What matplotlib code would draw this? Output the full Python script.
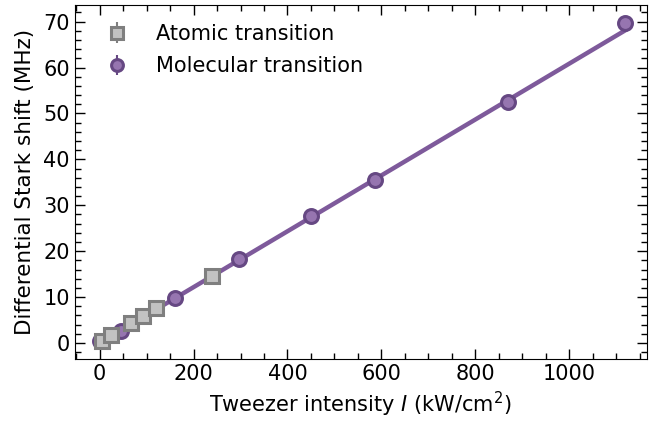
import matplotlib
matplotlib.use('Agg')
import matplotlib.pyplot as plt
from matplotlib.ticker import MultipleLocator

# atomic transition (grey squares)
atom_I = [4, 25, 66, 93, 121, 240]
atom_shift = [0.4, 1.7, 4.3, 5.9, 7.6, 14.7]
atom_err = [0.3, 0.3, 0.3, 0.3, 0.3, 0.3]

# molecular transition (purple circles)
mol_I = [0, 45, 160, 296, 451, 587, 870, 1119]
mol_shift = [0.4, 2.6, 9.7, 18.3, 27.6, 35.6, 52.4, 69.8]
mol_err = [0.3, 0.3, 0.3, 0.3, 0.3, 0.3, 0.3, 0.3]

# linear fit endpoints
fit_I = [0, 1119]
fit_shift = [0.0, 68.1]

line_col = '#7e5a9b'
mol_face = '#9675b0'
mol_edge = '#664883'
atom_face = '#c2c2c2'
atom_edge = '#7f7f7f'

plt.rcParams['font.size'] = 15
fig, ax = plt.subplots(figsize=(6.5, 4.26), dpi=100)

ax.plot(fit_I, fit_shift, color=line_col, lw=3.2, zorder=1)
ax.errorbar(mol_I, mol_shift, yerr=mol_err, fmt='o', ms=10, mfc=mol_face, mec=mol_edge,
            mew=2.2, ecolor=mol_edge, elinewidth=1.5, label='Molecular transition', zorder=2)
ax.errorbar(atom_I, atom_shift, yerr=atom_err, fmt='s', ms=10, mfc=atom_face, mec=atom_edge,
            mew=2.2, ecolor=atom_edge, elinewidth=1.5, label='Atomic transition', zorder=3)

handles, labels = ax.get_legend_handles_labels()
ax.legend(handles[::-1], labels[::-1], loc='upper left', frameon=False, markerscale=0.85,
          handlelength=2.3, handletextpad=0.7, borderaxespad=0.5, labelspacing=0.6)

ax.set_xlabel('Tweezer intensity $I$ (kW/cm$^2$)')
ax.set_ylabel('Differential Stark shift (MHz)', fontsize=15.5, labelpad=6)

ax.set_xlim(-53, 1165)
ax.xaxis.set_major_locator(MultipleLocator(200))
ax.xaxis.set_minor_locator(MultipleLocator(50))
ax.yaxis.set_major_locator(MultipleLocator(10))
ax.yaxis.set_minor_locator(MultipleLocator(2))
ax.tick_params(which='both', direction='in', top=True, right=True)
ax.tick_params(which='major', length=7, width=1)
ax.tick_params(which='minor', length=4, width=1)

fig.subplots_adjust(left=0.115, right=0.995, bottom=0.157, top=0.988)
fig.savefig('out.png')
